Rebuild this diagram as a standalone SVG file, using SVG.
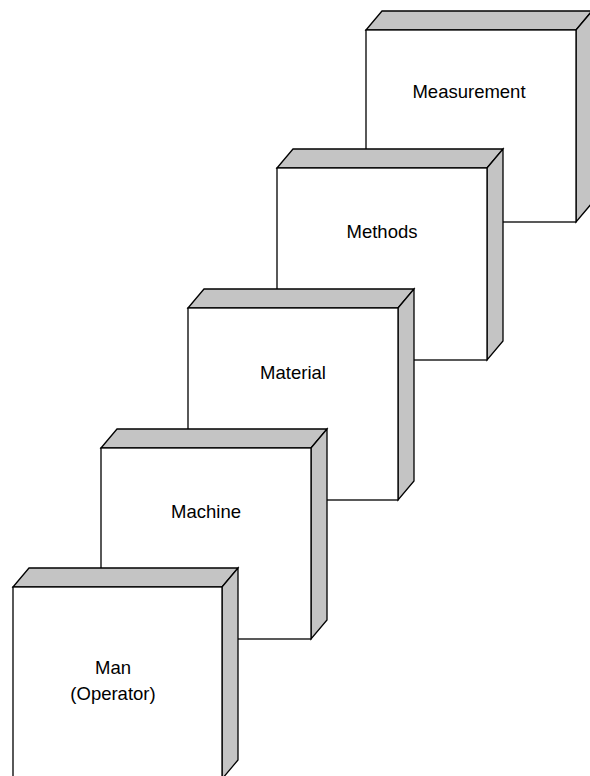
<svg xmlns="http://www.w3.org/2000/svg" width="590" height="776" viewBox="0 0 590 776">
<defs>
<style>
.side{fill:#c4c4c4;stroke:#000;stroke-width:1.3;stroke-linejoin:miter}
.front{fill:#fff;stroke:#000;stroke-width:1.3}
.lbl{font-family:"Liberation Sans",Arial,sans-serif;font-size:18.5px;fill:#000;text-anchor:middle}
</style>
</defs>
<rect width="590" height="776" fill="#fff"/>
<g id="measurement">
<polygon class="side" points="366,30 382,11 592,11 576,30"/>
<polygon class="side" points="576,30 592,11 592,203 576,222"/>
<rect class="front" x="366" y="30" width="210" height="192"/>
<text class="lbl" x="469" y="98">Measurement</text>
</g>
<g id="methods">
<polygon class="side" points="277,168 293,149 503,149 487,168"/>
<polygon class="side" points="487,168 503,149 503,341 487,360"/>
<rect class="front" x="277" y="168" width="210" height="192"/>
<text class="lbl" x="382" y="238">Methods</text>
</g>
<g id="material">
<polygon class="side" points="188,308 204,289 414,289 398,308"/>
<polygon class="side" points="398,308 414,289 414,481 398,500"/>
<rect class="front" x="188" y="308" width="210" height="192"/>
<text class="lbl" x="293" y="379">Material</text>
</g>
<g id="machine">
<polygon class="side" points="101,448 117,429 327,429 311,448"/>
<polygon class="side" points="311,448 327,429 327,620 311,639"/>
<rect class="front" x="101" y="448" width="210" height="191"/>
<text class="lbl" x="206" y="518">Machine</text>
</g>
<g id="man">
<polygon class="side" points="13,587 29,568 238,568 222,587"/>
<polygon class="side" points="222,587 238,568 238,760 222,779"/>
<rect class="front" x="13" y="587" width="209" height="192"/>
<text class="lbl" x="113" y="674">Man</text>
<text class="lbl" x="113" y="700">(Operator)</text>
</g>
</svg>
